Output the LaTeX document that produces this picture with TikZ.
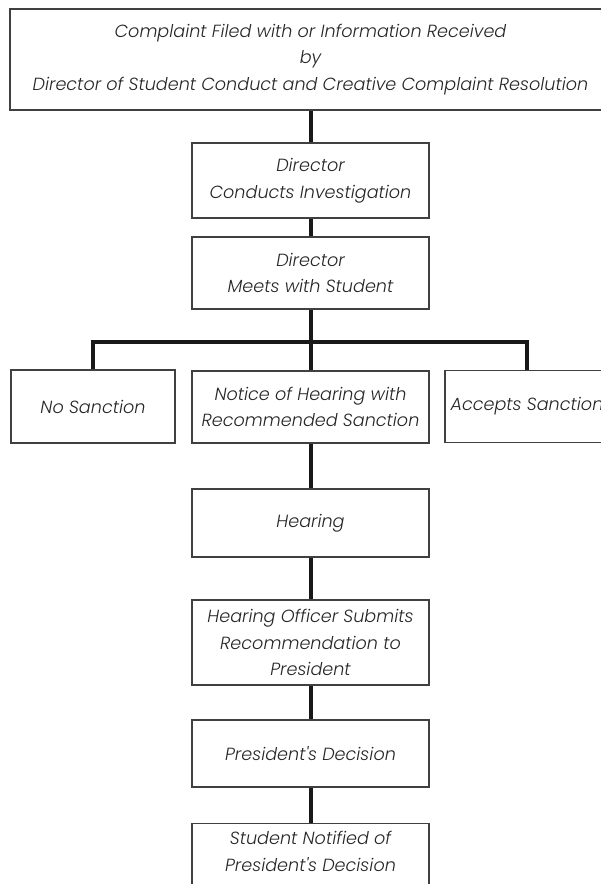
\documentclass[tikz,border=0pt]{standalone}
\usepackage{fontspec}
\newfontfamily\chartfont{Poppins Light Italic}
\begin{document}
\begin{tikzpicture}[x=1pt,y=-1pt,
  stepbox/.style={draw=black!75,line width=1.1pt,align=center,inner sep=0pt,text=black!85,
    minimum width=237pt,font=\chartfont\fontsize{17.6}{26.5}\selectfont},
  link/.style={line width=4pt,black!90}]
  \clip(0,0) rectangle (601,884);
  % boxes
  \node[stepbox,minimum width=601pt,minimum height=101pt] (filed) at (310.5,59.5)
    {Complaint Filed with or Information Received\\by\\Director of Student Conduct and Creative Complaint Resolution};
  \node[stepbox,minimum height=75pt] (investigate) at (310.5,180.5) {Director\\Conducts Investigation};
  \node[stepbox,minimum height=72pt] (meet) at (310.5,273) {Director\\Meets with Student};
  \node[stepbox,minimum width=164pt,minimum height=73pt] (nosanction) at (93,406.5) {No Sanction};
  \node[stepbox,minimum height=72pt] (notice) at (310.5,407) {Notice of Hearing with\\Recommended Sanction};
  \node[stepbox,minimum width=164pt,minimum height=72pt] (accepts) at (527,406.5) {Accepts Sanction};
  \node[stepbox,minimum height=68pt] (hearing) at (310.5,523) {Hearing};
  \node[stepbox,minimum height=85pt] (officer) at (310.5,642.5) {Hearing Officer Submits\\Recommendation to\\President};
  \node[stepbox,minimum height=67pt] (decision) at (310.5,753.5) {President's Decision};
  \node[stepbox,anchor=north,inner ysep=8pt,text depth=40pt] (notified) at (310.5,823) {Student Notified of\\President's Decision};
  \coordinate (split) at (310.5,342);
  % connectors
  \draw[link](filed)--(investigate);
  \draw[link](investigate)--(meet);
  \draw[link](meet)--(split);
  \draw[link](nosanction.north)|-(split)-|(accepts.north);
  \draw[link](split)--(notice);
  \draw[link](notice)--(hearing);
  \draw[link](hearing)--(officer);
  \draw[link](officer)--(decision);
  \draw[link](decision)--(notified);
\end{tikzpicture}
\end{document}
